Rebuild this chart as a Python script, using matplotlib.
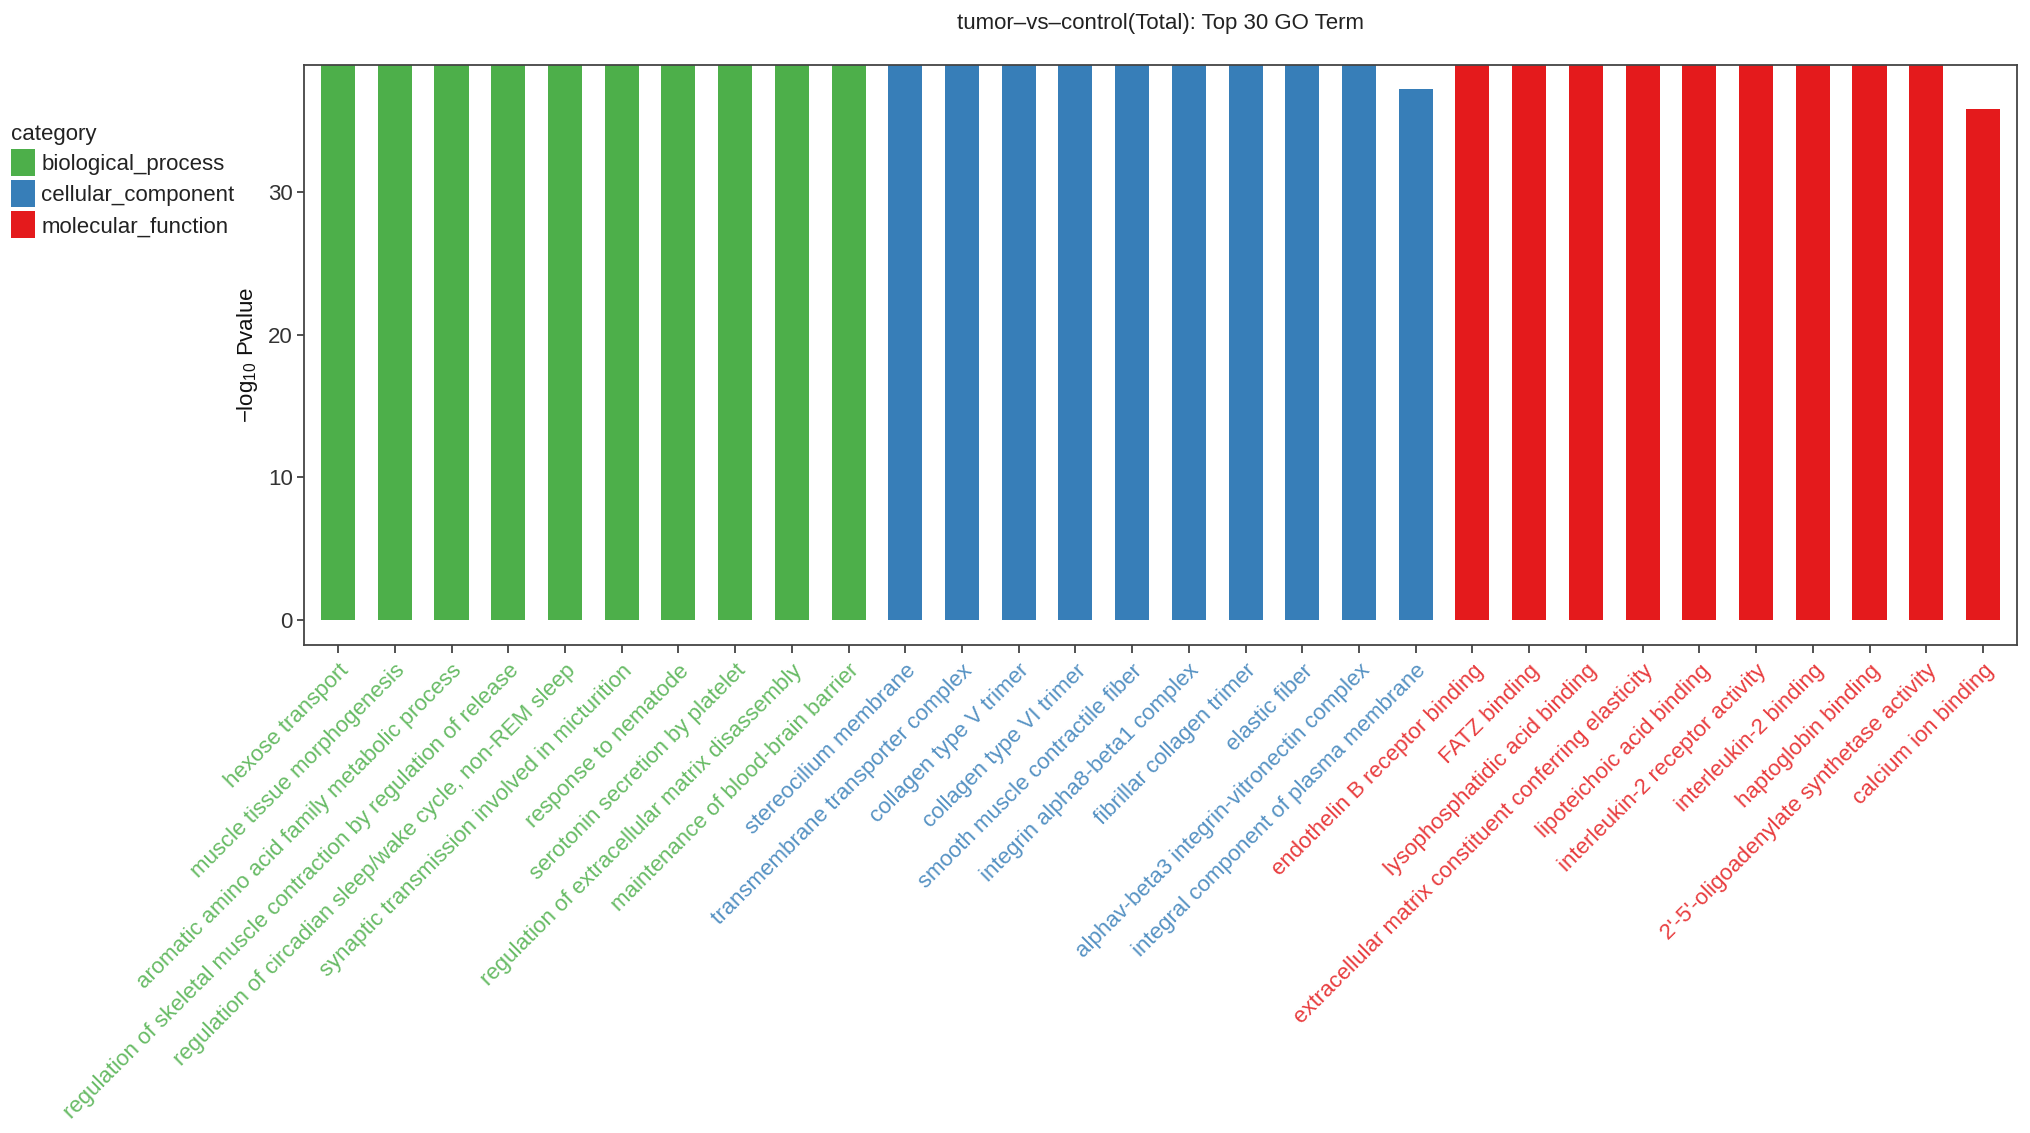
import numpy as np
import matplotlib
matplotlib.use("Agg")
import matplotlib.pyplot as plt
from matplotlib.patches import Patch

plt.rcParams['font.family'] = ['Liberation Sans', 'DejaVu Sans']
plt.rcParams['mathtext.fontset'] = 'custom'
plt.rcParams['mathtext.rm'] = 'Liberation Sans'
plt.rcParams['mathtext.it'] = 'Liberation Sans:italic'

# ---------------- data ----------------
bp_terms = [
    "hexose transport",
    "muscle tissue morphogenesis",
    "aromatic amino acid family metabolic process",
    "regulation of skeletal muscle contraction by regulation of release",
    "regulation of circadian sleep/wake cycle, non-REM sleep",
    "synaptic transmission involved in micturition",
    "response to nematode",
    "serotonin secretion by platelet",
    "regulation of extracellular matrix disassembly",
    "maintenance of blood-brain barrier",
]
cc_terms = [
    "stereocilium membrane",
    "transmembrane transporter complex",
    "collagen type V trimer",
    "collagen type VI trimer",
    "smooth muscle contractile fiber",
    "integrin alpha8-beta1 complex",
    "fibrillar collagen trimer",
    "elastic fiber",
    "alphav-beta3 integrin-vitronectin complex",
    "integral component of plasma membrane",
]
mf_terms = [
    "endothelin B receptor binding",
    "FATZ binding",
    "lysophosphatidic acid binding",
    "extracellular matrix constituent conferring elasticity",
    "lipoteichoic acid binding",
    "interleukin-2 receptor activity",
    "interleukin-2 binding",
    "haptoglobin binding",
    "2'-5'-oligoadenylate synthetase activity",
    "calcium ion binding",
]
# -log10 Pvalue (inf = p-value of 0, bar runs off the top of the panel)
bp_values = [np.inf] * 10
cc_values = [np.inf] * 9 + [37.2]
mf_values = [np.inf] * 9 + [35.8]

categories = ["biological_process", "cellular_component", "molecular_function"]
cat_colors = ["#4DAF4A", "#377EB8", "#E41A1C"]
y_ticks = [0, 10, 20, 30]
title = "tumor\u2013vs\u2013control(Total): Top 30 GO Term"

# ---------------- plot ----------------
terms = bp_terms + cc_terms + mf_terms
values = np.array(bp_values + cc_values + mf_values, dtype=float)
cat_idx = [0] * len(bp_terms) + [1] * len(cc_terms) + [2] * len(mf_terms)
colors = [cat_colors[i] for i in cat_idx]

ymin, ymax = -1.74, 38.9
heights = np.minimum(values, ymax + 1)

fig = plt.figure(figsize=(20.31, 11.33), dpi=100)
ax = fig.add_axes([0.1497, 0.4307, 0.9931 - 0.1497, 0.9426 - 0.4307])

x = np.arange(len(terms))
ax.bar(x, heights, width=0.6, color=colors, zorder=2)
ax.set_xlim(-0.6, len(terms) - 1 + 0.6)
ax.set_ylim(ymin, ymax)
ax.set_yticks(y_ticks)
ax.set_xticks(x)
ax.set_xticklabels(terms, rotation=45, ha='right', va='top',
                   rotation_mode='anchor', fontsize=16)
for lbl, c in zip(ax.get_xticklabels(), colors):
    lbl.set_color(c)
    lbl.set_alpha(0.85)

ax.tick_params(axis='y', labelsize=16, length=5, width=1.2,
               color='#333333', labelcolor='#333333', pad=3)
ax.tick_params(axis='x', length=6, width=1.2, color='#333333', pad=5)
for s in ax.spines.values():
    s.set_color('#444444')
    s.set_linewidth(1.3)

ax.set_ylabel(r"$-$log$_{10}$ Pvalue", fontsize=16, color='#111111', labelpad=6)

fig.text((0.1497 + 0.9931) / 2, 1 - 24 / 1133, title, ha='center', va='center',
         fontsize=16, color='#222222')

handles = [Patch(facecolor=c, edgecolor='none') for c in cat_colors]
leg = fig.legend(handles, categories, loc='upper left',
                 bbox_to_anchor=(0.003, 1 - 120 / 1133),
                 title='category', title_fontsize=16, fontsize=16,
                 frameon=False, handlelength=1.08, handleheight=1.49,
                 labelspacing=0.18, handletextpad=0.3, borderaxespad=0,
                 borderpad=0.2, alignment='left')
for t in leg.get_texts():
    t.set_color('#222222')
leg.get_title().set_color('#222222')

fig.savefig("out.png", dpi=100)
